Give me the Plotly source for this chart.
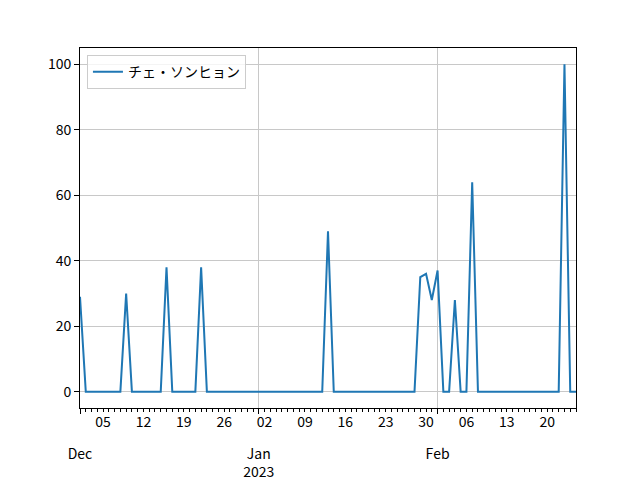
import pandas as pd
import plotly.graph_objects as go

# Data
dates = pd.date_range("2022-12-01", "2023-02-25", freq="D")
values = [
    29, 0, 0, 0, 0, 0, 0, 0, 30, 0,      # Dec 1-10
    0, 0, 0, 0, 0, 38, 0, 0, 0, 0,       # Dec 11-20
    0, 38, 0, 0, 0, 0, 0, 0, 0, 0,       # Dec 21-30
    0, 0, 0, 0, 0, 0, 0, 0, 0, 0,        # Dec 31 - Jan 9
    0, 0, 0, 49, 0, 0, 0, 0, 0, 0,       # Jan 10-19
    0, 0, 0, 0, 0, 0, 0, 0, 0, 35,       # Jan 20-29
    36, 28, 37, 0, 0, 28, 0, 0, 64, 0,   # Jan 30 - Feb 8
    0, 0, 0, 0, 0, 0, 0, 0, 0, 0,        # Feb 9-18
    0, 0, 0, 0, 100, 0, 0,               # Feb 19-25
]
series_name = "チェ・ソンヒョン"

week_ticks = ["2022-12-05", "2022-12-12", "2022-12-19", "2022-12-26",
              "2023-01-02", "2023-01-09", "2023-01-16", "2023-01-23",
              "2023-01-30", "2023-02-06", "2023-02-13", "2023-02-20"]
week_labels = ["05", "12", "19", "26", "02", "09", "16", "23", "30", "06", "13", "20"]
month_ticks = ["2022-12-01", "2023-01-01", "2023-02-01"]
month_labels = ["Dec", "Jan<br>2023", "Feb"]
y_ticks = [0, 20, 40, 60, 80, 100]

FONT = "Noto Sans CJK JP"
xrange_ = [dates[0], dates[-1]]
GRID = "#c8c8c8"

fig = go.Figure()
fig.add_trace(go.Scatter(
    x=dates, y=values, mode="lines", name=series_name,
    line=dict(color="#1f77b4", width=2),
))
fig.add_trace(go.Scatter(
    x=[dates[0]], y=[None], mode="lines", xaxis="x2",
    showlegend=False, hoverinfo="skip",
))

fig.update_layout(
    width=632, height=472,
    margin=dict(l=72, r=64, t=40, b=72, autoexpand=False),
    paper_bgcolor="white", plot_bgcolor="white",
    font=dict(family=FONT, size=14, color="black"),
    showlegend=True,
    legend=dict(
        x=0.014, y=0.98, xanchor="left", yanchor="top",
        bgcolor="rgba(255,255,255,0.8)", bordercolor="#cccccc", borderwidth=1,
        font=dict(family=FONT, size=14),
    ),
    xaxis=dict(
        type="date", range=xrange_, automargin=False,
        tickmode="array", tickvals=month_ticks, ticktext=month_labels,
        ticks="outside", ticklen=5, tickwidth=1, tickcolor="black",
        ticklabelstandoff=28,
        showgrid=True, gridcolor=GRID, gridwidth=1,
        showline=True, linecolor="black", linewidth=1, mirror=True,
        zeroline=False, tickangle=0,
        minor=dict(dtick=86400000, tick0="2022-12-01", ticks="outside",
                   ticklen=3, tickcolor="black", tickwidth=1, showgrid=False),
    ),
    xaxis2=dict(
        type="date", range=xrange_, overlaying="x", anchor="y", side="bottom",
        automargin=False,
        tickmode="array", tickvals=week_ticks, ticktext=week_labels,
        ticks="", showgrid=False, showline=False, zeroline=False, tickangle=0,
        ticklabelstandoff=4,
    ),
    yaxis=dict(
        range=[-5, 105], tickmode="array", tickvals=y_ticks, automargin=False,
        ticks="outside", ticklen=5, tickwidth=1, tickcolor="black",
        showgrid=True, gridcolor=GRID, gridwidth=1,
        showline=True, linecolor="black", linewidth=1, mirror=True,
        zeroline=False,
    ),
)

fig.write_html("out.html")
